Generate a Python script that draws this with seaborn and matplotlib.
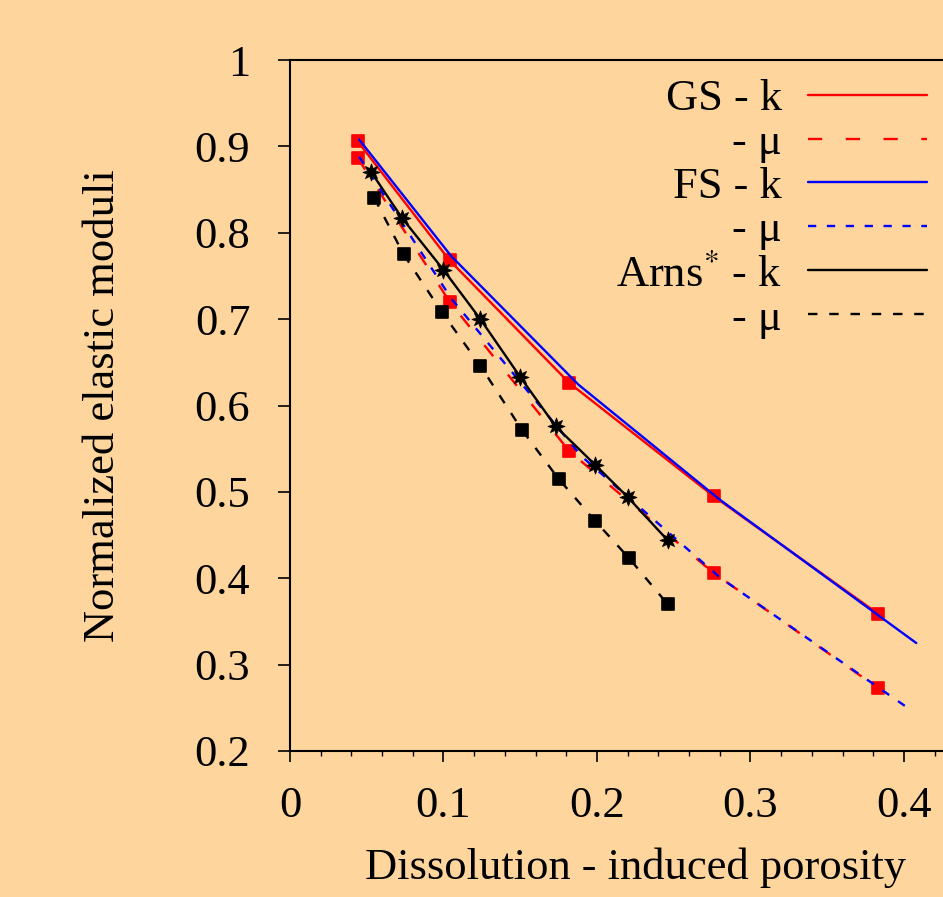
import numpy as np
import pandas as pd
import matplotlib
matplotlib.use("Agg")
import matplotlib.pyplot as plt
from matplotlib.ticker import MultipleLocator, FixedLocator, FixedFormatter
import seaborn as sns

# values
gs_x = [0.044, 0.104, 0.182, 0.276, 0.383]
gs_k = [0.906, 0.768, 0.626, 0.495, 0.359]
gs_mu = [0.887, 0.720, 0.547, 0.406, 0.273]

fs_k_x = [0.045, 0.105, 0.188, 0.280, 0.408]
fs_k = [0.908, 0.773, 0.624, 0.491, 0.325]
fs_mu_x = [0.045, 0.105, 0.190, 0.280, 0.404]
fs_mu = [0.888, 0.724, 0.541, 0.401, 0.248]

arns_k_x = [0.053, 0.073, 0.100, 0.124, 0.150, 0.173, 0.199, 0.220, 0.246]
arns_k = [0.870, 0.817, 0.757, 0.700, 0.633, 0.576, 0.531, 0.494, 0.444]
arns_mu_x = [0.055, 0.074, 0.099, 0.124, 0.151, 0.175, 0.199, 0.221, 0.246]
arns_mu = [0.840, 0.775, 0.708, 0.646, 0.572, 0.515, 0.466, 0.423, 0.370]

legend_labels = ["GS - k", "- \u03bc", "FS - k", "- \u03bc", "Arns$^{*}$ - k", "- \u03bc"]
x_ticks = [0, 0.1, 0.2, 0.3, 0.4]
x_ticklabels = ["0", "0.1", "0.2", "0.3", "0.4"]
y_ticks = [0.2, 0.3, 0.4, 0.5, 0.6, 0.7, 0.8, 0.9, 1.0]
y_ticklabels = ["0.2", "0.3", "0.4", "0.5", "0.6", "0.7", "0.8", "0.9", "1"]

bg = "#FED59D"
sns.set_theme(style="ticks")
plt.rcParams["font.family"] = ["Liberation Serif", "DejaVu Serif"]
plt.rcParams["mathtext.fontset"] = "stix"
plt.rcParams["axes.linewidth"] = 1.5
for key in ["text.color", "axes.labelcolor", "xtick.color", "ytick.color", "axes.edgecolor"]:
    plt.rcParams[key] = "black"
fs = 32

fig = plt.figure(figsize=(9.43, 8.97), dpi=100, facecolor=bg)
ax = fig.add_axes([290 / 943, 1 - 751 / 897, 0.7325, (751 - 60) / 897])
ax.set_facecolor(bg)

lw = 1.7
# GS
sns.lineplot(x=gs_x, y=gs_k, color="red", lw=lw, ax=ax, sort=False, estimator=None)
sns.lineplot(x=gs_x, y=gs_mu, color="red", lw=lw, ax=ax, sort=False, estimator=None,
             linestyle=(0, (6, 10)))
sns.scatterplot(x=gs_x + gs_x, y=gs_k + gs_mu, color="red", marker="s", s=85,
                linewidth=1.2, edgecolor="red", ax=ax, legend=False, zorder=3)
# FS
sns.lineplot(x=fs_k_x, y=fs_k, color="blue", lw=lw, ax=ax, sort=False, estimator=None, zorder=4)
sns.lineplot(x=fs_mu_x, y=fs_mu, color="blue", lw=lw, ax=ax, sort=False, estimator=None,
             linestyle=(0, (3.5, 4.5)), zorder=4)
# Arns
sns.lineplot(x=arns_k_x, y=arns_k, color="black", lw=lw, ax=ax, sort=False, estimator=None, zorder=5)
sns.lineplot(x=arns_mu_x, y=arns_mu, color="black", lw=lw, ax=ax, sort=False, estimator=None,
             linestyle=(0, (4, 5)), zorder=5)
sns.scatterplot(x=arns_k_x, y=arns_k, color="black", marker=(8, 1, 0), s=150,
                linewidth=0.6, edgecolor="black", ax=ax, legend=False, zorder=6)
sns.scatterplot(x=arns_mu_x, y=arns_mu, color="black", marker="s", s=70,
                linewidth=1.2, edgecolor="black", ax=ax, legend=False, zorder=6)

ax.set_xlim(0, 0.45)
ax.set_ylim(0.2, 1.0)
ax.xaxis.set_major_locator(FixedLocator(x_ticks))
ax.xaxis.set_major_formatter(FixedFormatter(x_ticklabels))
ax.xaxis.set_minor_locator(MultipleLocator(0.02))
ax.yaxis.set_major_locator(FixedLocator(y_ticks))
ax.yaxis.set_major_formatter(FixedFormatter(y_ticklabels))
ax.tick_params(axis="x", which="major", length=8, width=1.2, pad=17, labelsize=fs, direction="out")
ax.tick_params(axis="x", which="minor", length=3.6, width=1.0, direction="out")
ax.tick_params(axis="y", which="major", length=8.6, width=1.2, pad=20, labelsize=fs, direction="out")
for s in ["left", "bottom", "top"]:
    ax.spines[s].set_visible(True)
ax.spines["right"].set_visible(False)

ax.set_xlabel("Dissolution - induced porosity", fontsize=fs)
ax.set_ylabel("Normalized elastic moduli", fontsize=fs)
ax.xaxis.set_label_coords(0.5, -0.140)
ax.yaxis.set_label_coords(-0.242, 0.5)

handles = ax.get_lines()[:6]
ax.legend(handles=handles, labels=legend_labels, loc="upper right",
          bbox_to_anchor=(0.922, 0.972), frameon=False, fontsize=fs,
          markerfirst=False, handlelength=2.68, handletextpad=0.585,
          labelspacing=0.08, borderpad=0, borderaxespad=0)

fig.savefig("out.png", dpi=100, facecolor=bg)
